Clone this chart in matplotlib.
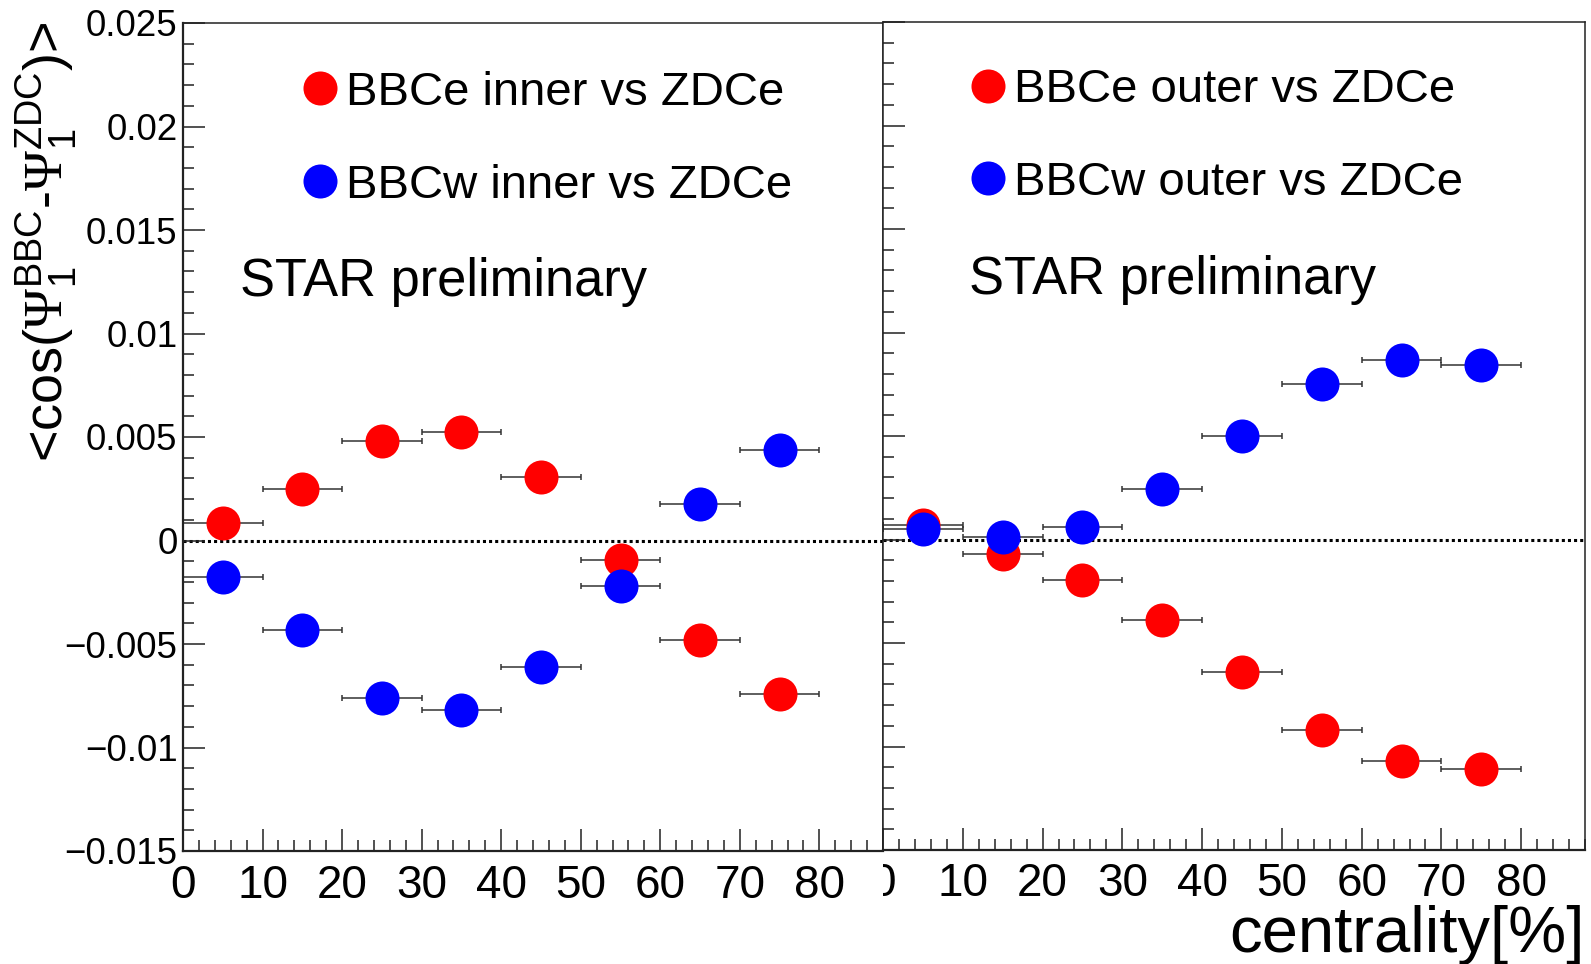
import matplotlib
matplotlib.use('Agg')
import matplotlib.pyplot as plt
from matplotlib.ticker import MultipleLocator, FuncFormatter
from matplotlib.patches import Rectangle

plt.rcParams['font.family'] = ['Liberation Sans', 'DejaVu Sans']
plt.rcParams['mathtext.fontset'] = 'custom'
plt.rcParams['mathtext.rm'] = 'Liberation Serif'
plt.rcParams['mathtext.sf'] = 'Liberation Sans'
plt.rcParams['mathtext.it'] = 'Liberation Sans:italic'
plt.rcParams['mathtext.bf'] = 'Liberation Sans:bold'

# centrality bins (centres) and half widths
cent = [5, 15, 25, 35, 45, 55, 65, 75]
cent_err = [5, 5, 5, 5, 5, 5, 5, 5]

# left panel: BBC inner vs ZDCe
inner_e = [0.00085, 0.0025, 0.0048, 0.00525, 0.00305, -0.00092, -0.0048, -0.0074]
inner_w = [-0.00177, -0.0043, -0.0076, -0.0082, -0.0061, -0.0022, 0.00177, 0.00437]

# right panel: BBC outer vs ZDCe
outer_e = [0.00071, -0.00068, -0.00197, -0.00387, -0.00642, -0.0092, -0.01068, -0.0111]
outer_w = [0.00053, 0.0001, 0.00058, 0.00246, 0.0050, 0.0075, 0.00869, 0.00844]

labels_left = ['BBCe inner vs ZDCe', 'BBCw inner vs ZDCe']
labels_right = ['BBCe outer vs ZDCe', 'BBCw outer vs ZDCe']

W, H = 1591, 964
fig = plt.figure(figsize=(W / 100, H / 100), dpi=100)


def frac(x0, y0, x1, y1):
    # pixel box (from top-left) -> figure fraction
    return [x0 / W, 1 - y1 / H, (x1 - x0) / W, (y1 - y0) / H]


axL = fig.add_axes(frac(183, 23, 883, 851))
axR = fig.add_axes(frac(883, 22, 1585, 850))


def fmt(v, pos):
    s = '%g' % round(v, 6)
    if s == '-0':
        s = '0'
    return s.replace('-', '\u2212')


def style(ax, ylabels):
    ax.set_xlim(0, 88)
    ax.set_ylim(-0.015, 0.025)
    ax.xaxis.set_major_locator(MultipleLocator(10))
    ax.xaxis.set_minor_locator(MultipleLocator(2))
    ax.yaxis.set_major_locator(MultipleLocator(0.005))
    ax.yaxis.set_minor_locator(MultipleLocator(0.001))
    ax.yaxis.set_major_formatter(FuncFormatter(fmt))
    ax.tick_params(which='both', direction='in', top=False, right=False,
                   width=1.1, color='#222222')
    ax.tick_params(which='major', length=16)
    ax.tick_params(which='minor', length=8)
    ax.tick_params(axis='x', labelsize=33, pad=9)
    ax.tick_params(axis='y', labelsize=26.5, pad=4, labelleft=ylabels)
    for sp in ax.spines.values():
        sp.set_linewidth(1.1)
        sp.set_color('#222222')
    ax.axhline(0, color='black', ls=(0, (1, 1)), lw=2.2, zorder=1)


def draw(ax, ye, yw, labels):
    ax.errorbar(cent, ye, xerr=cent_err, fmt='none', ecolor='#333333',
                elinewidth=1.1, capsize=2.2, capthick=1.1, zorder=2)
    ax.errorbar(cent, yw, xerr=cent_err, fmt='none', ecolor='#333333',
                elinewidth=1.1, capsize=2.2, capthick=1.1, zorder=2)
    ax.plot(cent, ye, 'o', color='#ff0000', ms=24.5, mec='none', label=labels[0], zorder=3)
    ax.plot(cent, yw, 'o', color='#0000ff', ms=24.5, mec='none', label=labels[1], zorder=4)


style(axL, True)
style(axR, False)
axL.spines['left'].set_linewidth(1.6)
axL.spines['bottom'].set_linewidth(1.6)
axR.spines['bottom'].set_linewidth(1.6)
draw(axL, inner_e, inner_w, labels_left)
draw(axR, outer_e, outer_w, labels_right)

leg_kw = dict(loc='upper left', frameon=False, fontsize=34, handlelength=1.0,
              handletextpad=0.05, labelspacing=1.03, borderpad=0,
              borderaxespad=0, numpoints=1)
axL.legend(bbox_to_anchor=(0.162, 0.942), **leg_kw)
axR.legend(bbox_to_anchor=(0.116, 0.944), **leg_kw)

axL.text(0.081, 0.687, 'STAR preliminary', transform=axL.transAxes,
         fontsize=37.8, va='center', ha='left')
axR.text(0.1225, 0.689, 'STAR preliminary', transform=axR.transAxes,
         fontsize=37.8, va='center', ha='left')

fig.text(47 / W, 1 - 22 / H,
         r'<cos($\Psi_{\mathsf{1}}^{\mathsf{BBC}}$-$\Psi_{\mathsf{1}}^{\mathsf{ZDC}}$)>',
         rotation=90, va='top', ha='center', fontsize=39)
fig.text(1585 / W, 1 - 952 / H, 'centrality[%]', ha='right', va='baseline', fontsize=47)

# the left pad hides the left half of the right panel's "0" label
fig.add_artist(Rectangle((852 / W, 1 - 905 / H), 31 / W, 50 / H,
                         transform=fig.transFigure, facecolor='white',
                         edgecolor='none', zorder=5))

fig.savefig('out.png', dpi=100)
